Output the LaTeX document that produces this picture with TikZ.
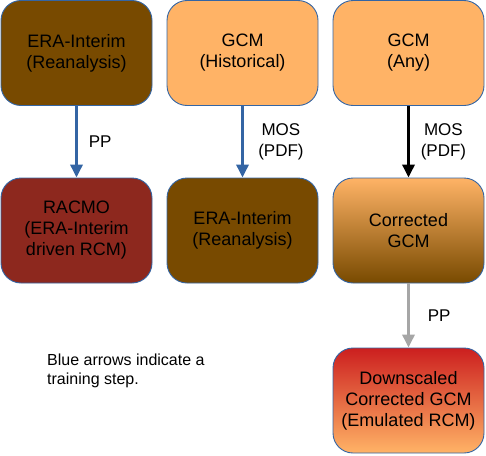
\documentclass[tikz,border=0pt]{standalone}
\usepackage{fontspec}
\setmainfont{Liberation Sans}
\usetikzlibrary{arrows.meta}
\definecolor{brownfill}{HTML}{784A00}
\definecolor{orangefill}{HTML}{FFB366}
\definecolor{racmofill}{HTML}{8D281E}
\definecolor{redtop}{HTML}{CC1F1F}
\definecolor{edgeblue}{HTML}{3465A4}
\definecolor{grayarrow}{HTML}{A6A6A6}
\tikzset{
  box/.style={draw=edgeblue, line width=0.9pt, rounded corners=20pt, minimum width=151pt, minimum height=105pt, align=center, inner sep=0pt, font=\fontsize{18pt}{21pt}\selectfont, text=black},
  lbl/.style={align=center, inner sep=0pt, font=\fontsize{17pt}{21pt}\selectfont},
  arr/.style={line width=3.5pt, -{Triangle[length=13pt,width=12pt]}},
}
\begin{document}
\begin{tikzpicture}[x=1pt,y=-1pt]
\useasboundingbox (0,0) rectangle (486,455);
\node[box, fill=brownfill] (era1) at (76.5,53) {ERA-Interim\\(Reanalysis)};
\node[box, fill=orangefill] (gcmh) at (242.5,53) {GCM\\(Historical)};
\node[box, fill=orangefill] (gcma) at (408.5,53) {GCM\\(Any)};
\node[box, fill=racmofill] (racmo) at (76.5,230.5) {RACMO\\(ERA-Interim\\driven RCM)};
\node[box, fill=brownfill] (era2) at (242.5,230.5) {ERA-Interim\\(Reanalysis)};
\node[box, top color=orangefill, bottom color=brownfill, middle color=orangefill!50!brownfill] (corr) at (408.5,230.5) {Corrected\\GCM};
\node[box, top color=redtop, bottom color=orangefill, middle color=redtop!50!orangefill] (down) at (408.5,400.5) {Downscaled\\Corrected GCM\\(Emulated RCM)};
\draw[arr, edgeblue] (era1.south) -- (racmo.north) node[lbl, text=black, midway, right=10.5pt] (pp1) {PP};
\draw[arr, edgeblue] (gcmh.south) -- (era2.north) node[lbl, text=black, midway, right=14pt] (mos1) {MOS\\(PDF)};
\draw[arr, black] (gcma.south) -- (corr.north) node[lbl, text=black, midway, right=10.5pt] (mos2) {MOS\\(PDF)};
\draw[arr, grayarrow] (corr.south) -- (down.north) node[lbl, text=black, midway, right=17.5pt] (pp2) {PP};
\node[lbl, align=left, anchor=north west, font=\fontsize{16pt}{19pt}\selectfont] (note) at (47,354) {Blue arrows indicate a\\training step.};
\end{tikzpicture}
\end{document}
